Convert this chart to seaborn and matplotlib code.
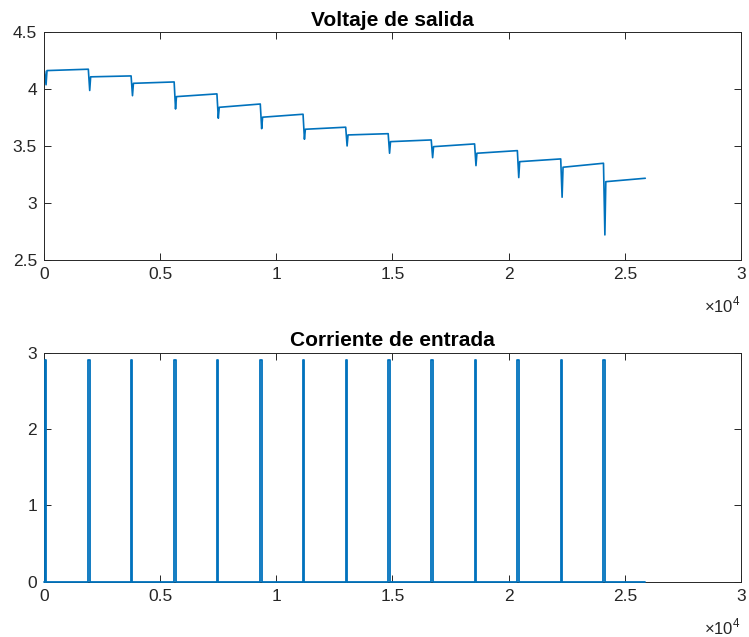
import numpy as np
import pandas as pd
import matplotlib
matplotlib.use("Agg")
import matplotlib.pyplot as plt
import seaborn as sns

# Pulse start times (s) of the discharge test
pulse_times = [30, 1909, 3750, 5603, 7444, 9310, 11151, 12987, 14815,
               16668, 18534, 20375, 22241, 24082]
pulse_width = 60          # s
pulse_current = 2.9       # A
t_end = 25880             # s

# Output voltage readings per segment (V)
v_start = 4.16
v_dip = [4.04, 3.99, 3.944, 3.827, 3.746, 3.654, 3.561, 3.502, 3.438,
         3.399, 3.329, 3.224, 3.051, 2.720]
v_after = [4.165, 4.11, 4.053, 3.936, 3.842, 3.755, 3.649, 3.599, 3.540,
           3.496, 3.438, 3.364, 3.315, 3.188]
v_end = [4.177, 4.118, 4.065, 3.960, 3.871, 3.781, 3.667, 3.610, 3.555,
         3.520, 3.461, 3.388, 3.350, 3.218]

recovery_time = 40        # s after the pulse ends

# Build voltage trace
vt, vv = [0.0], [v_start]
for k, t0 in enumerate(pulse_times):
    t_next = pulse_times[k + 1] if k + 1 < len(pulse_times) else t_end
    vt += [t0, t0 + pulse_width, t0 + pulse_width + recovery_time, t_next]
    vv += [vv[-1], v_dip[k], v_after[k], v_end[k]]
volt = pd.DataFrame({"t": vt, "v": vv})

# Build current trace
ct, cv = [0.0], [0.0]
for t0 in pulse_times:
    ct += [t0, t0, t0 + pulse_width, t0 + pulse_width]
    cv += [0.0, pulse_current, pulse_current, 0.0]
ct.append(t_end)
cv.append(0.0)
curr = pd.DataFrame({"t": ct, "i": cv})

sns.set_theme(style="white")
plt.rcParams["font.family"] = ["Liberation Sans", "DejaVu Sans"]
plt.rcParams["mathtext.fontset"] = "custom"
plt.rcParams["mathtext.rm"] = "Liberation Sans"

blue = "#0072BD"
dark = "#262626"
tick_fs = 12.5
title_fs = 15

fig = plt.figure(figsize=(7.49, 6.37), dpi=100)
ax1 = fig.add_axes([0.0587, 0.592, 0.9306, 0.357])
ax2 = fig.add_axes([0.0587, 0.0868, 0.9306, 0.3595])

sns.lineplot(data=volt, x="t", y="v", ax=ax1, color=blue, lw=1.2,
             estimator=None, sort=False)
sns.lineplot(data=curr, x="t", y="i", ax=ax2, color=blue, lw=1.3,
             estimator=None, sort=False, zorder=3, clip_on=False)

ax1.set_ylim(2.5, 4.5)
ax1.set_yticks([2.5, 3, 3.5, 4, 4.5])
ax1.set_yticklabels(["2.5", "3", "3.5", "4", "4.5"])
ax2.set_ylim(0, 3)
ax2.set_yticks([0, 1, 2, 3])
ax2.set_yticklabels(["0", "1", "2", "3"])

for ax, title in ((ax1, "Voltaje de salida"), (ax2, "Corriente de entrada")):
    ax.set_xlim(0, 30000)
    ax.set_xticks([0, 5000, 10000, 15000, 20000, 25000, 30000])
    ax.set_xticklabels(["0", "0.5", "1", "1.5", "2", "2.5", "3"])
    ax.set_xlabel("")
    ax.set_ylabel("")
    ax.set_title(title, fontsize=title_fs, fontweight="bold", color="black", pad=5)
    for s in ax.spines.values():
        s.set_color(dark)
        s.set_linewidth(0.7)
        s.set_visible(True)
    ax.tick_params(axis="both", which="both", direction="in", length=5,
                   width=0.7, color=dark, labelcolor=dark, labelsize=tick_fs,
                   top=True, right=True, bottom=True, left=True, pad=5)
    ax.text(1.0, -0.155, r"×10$^{4}$", transform=ax.transAxes, ha="right",
            va="top", fontsize=12, color=dark)

fig.savefig("out.png", dpi=100, facecolor="white")
